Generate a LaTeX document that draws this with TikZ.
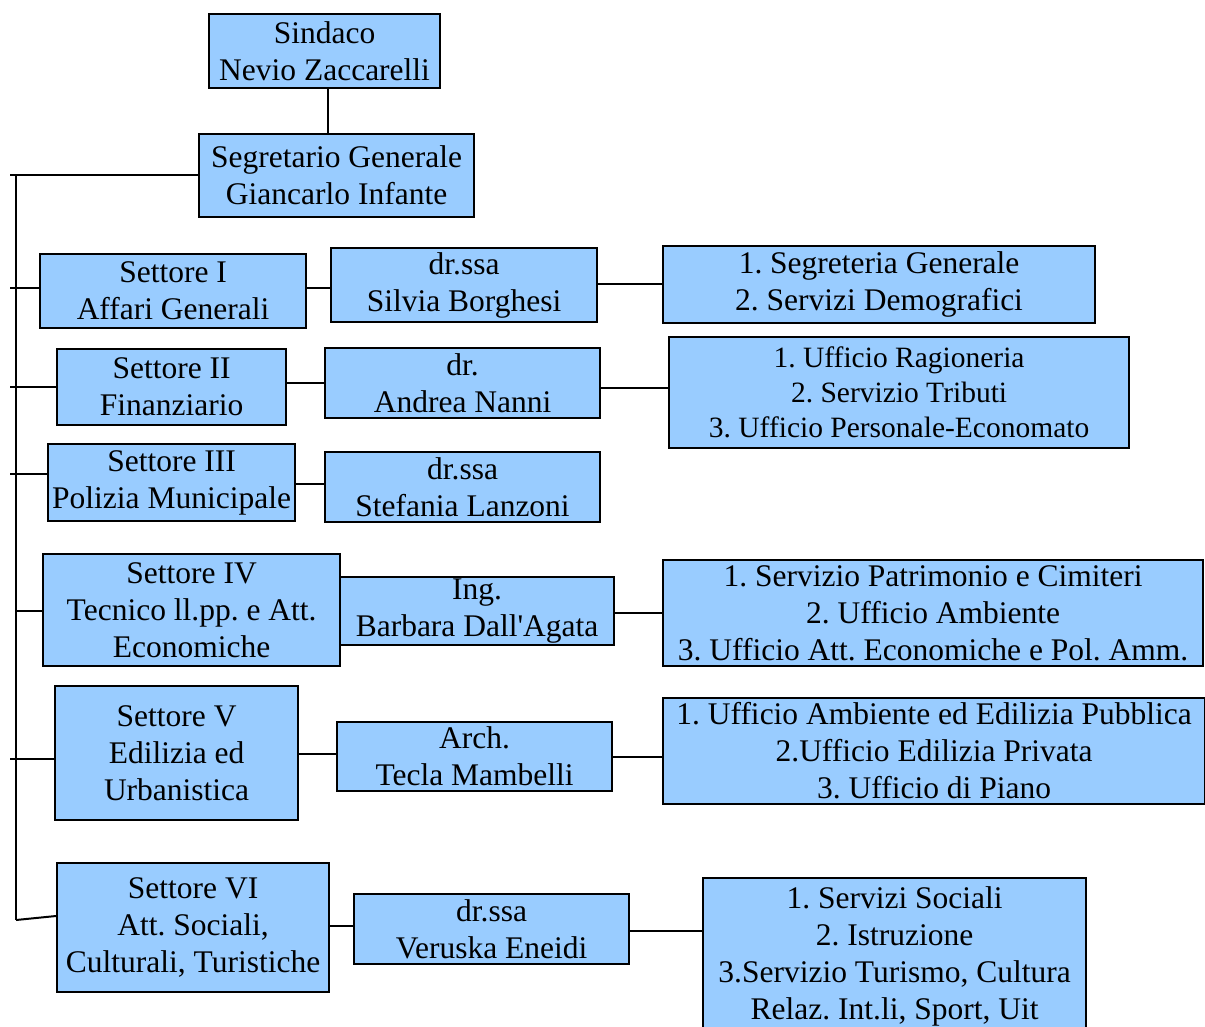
\documentclass[tikz,border=0pt]{standalone}
\usepackage{fontspec}
\setmainfont{Liberation Serif}[Ligatures=TeXOff]
\definecolor{boxblue}{RGB}{153,204,255}
\frenchspacing
\begin{document}
\begin{tikzpicture}[x=1pt,y=-1pt,
  box/.style={draw=black, line width=2.2pt, fill=boxblue, inner sep=0pt, align=center, anchor=north west, font=\fontsize{31.5}{37}\selectfont},
  smalltext/.style={font=\fontsize{29.5}{35}\selectfont},
  link/.style={line width=2pt}]
\useasboundingbox (0,0) rectangle (1205,1026);
\clip (0,0) rectangle (1205,1026);
% boxes
\node[box, minimum width=231, minimum height=74] (sind) at (208,13) {Sindaco\\Nevio Zaccarelli};
\node[box, minimum width=275, minimum height=83] (seg) at (198,133) {Segretario Generale\\Giancarlo Infante};
\node[box, minimum width=266, minimum height=74] (s1) at (39,253) {Settore I\\Affari Generali};
\node[box, minimum width=266, minimum height=74] (d1) at (330,247) {dr.ssa\\Silvia Borghesi};
\node[box, minimum width=432, minimum height=77] (r1) at (662,245) {1. Segreteria Generale\\2. Servizi Demografici};
\node[box, minimum width=229, minimum height=76] (s2) at (56,348) {Settore II\\Finanziario};
\node[box, minimum width=275, minimum height=70] (d2) at (324,347) {dr.\\Andrea Nanni};
\node[box, smalltext, minimum width=460, minimum height=111] (r2) at (668,336) {1. Ufficio Ragioneria\\2. Servizio Tributi\\3. Ufficio Personale-Economato};
\node[box, minimum width=247, minimum height=77] (s3) at (47,443) {Settore III\\Polizia Municipale};
\node[box, minimum width=275, minimum height=70] (d3) at (324,451) {dr.ssa\\Stefania Lanzoni};
\node[box, minimum width=297, minimum height=112] (s4) at (42,553) {Settore IV\\Tecnico ll.pp. e Att.\\Economiche};
\node[box, minimum width=274, minimum height=68] (d4) at (339,576) {Ing.\\Barbara Dall'Agata};
\node[box, minimum width=540, minimum height=106] (r4) at (662,559) {1. Servizio Patrimonio e Cimiteri\\2. Ufficio Ambiente\\3. Ufficio Att. Economiche e Pol. Amm.};
\node[box, minimum width=243, minimum height=134] (s5) at (54,685) {Settore V\\Edilizia ed\\Urbanistica};
\node[box, minimum width=275, minimum height=69] (d5) at (336,721) {Arch.\\Tecla Mambelli};
\node[box, minimum width=542, minimum height=106] (r5) at (662,697) {1. Ufficio Ambiente ed Edilizia Pubblica\\2.Ufficio Edilizia Privata\\3. Ufficio di Piano};
\node[box, minimum width=272, minimum height=129] (s6) at (56,862) {Settore VI\\Att. Sociali,\\Culturali, Turistiche};
\node[box, minimum width=275, minimum height=70] (d6) at (353,893) {dr.ssa\\Veruska Eneidi};
\node[box, minimum width=383, minimum height=156] (r6) at (702,877) {1. Servizi Sociali\\2. Istruzione\\3.Servizio Turismo, Cultura\\Relaz. Int.li, Sport, Uit};
% helper coordinates
\coordinate (jx) at (328,0);
\coordinate (bt) at (16,175);
\coordinate (bb) at (16,920);
\coordinate (t0) at (10,175);
\coordinate (t1) at (10,288);
\coordinate (t2) at (10,387);
\coordinate (t3) at (10,474);
\coordinate (t4) at (16,611);
\coordinate (t5) at (10,759);
\coordinate (q6) at (0,916);
\coordinate (y1a) at (0,288);
\coordinate (y1b) at (0,284);
\coordinate (y2a) at (0,383);
\coordinate (y2b) at (0,388);
\coordinate (y3a) at (0,484);
\coordinate (y4b) at (0,613);
\coordinate (y5a) at (0,754);
\coordinate (y5b) at (0,757);
\coordinate (y6a) at (0,926);
\coordinate (y6b) at (0,931);
% connectors
\draw[link] (sind.south -| jx) -- (seg.north -| jx);
\draw[link] (bt) -- (bb);
\draw[link] (t0) -- (seg.west |- t0);
\draw[link] (t1) -- (s1.west |- t1);
\draw[link] (t2) -- (s2.west |- t2);
\draw[link] (t3) -- (s3.west |- t3);
\draw[link] (t4) -- (s4.west |- t4);
\draw[link] (t5) -- (s5.west |- t5);
\draw[link] (bb) -- (s6.west |- q6);
\draw[link] (s1.east |- y1a) -- (d1.west |- y1a);
\draw[link] (d1.east |- y1b) -- (r1.west |- y1b);
\draw[link] (s2.east |- y2a) -- (d2.west |- y2a);
\draw[link] (d2.east |- y2b) -- (r2.west |- y2b);
\draw[link] (s3.east |- y3a) -- (d3.west |- y3a);
\draw[link] (d4.east |- y4b) -- (r4.west |- y4b);
\draw[link] (s5.east |- y5a) -- (d5.west |- y5a);
\draw[link] (d5.east |- y5b) -- (r5.west |- y5b);
\draw[link] (s6.east |- y6a) -- (d6.west |- y6a);
\draw[link] (d6.east |- y6b) -- (r6.west |- y6b);
\end{tikzpicture}
\end{document}
